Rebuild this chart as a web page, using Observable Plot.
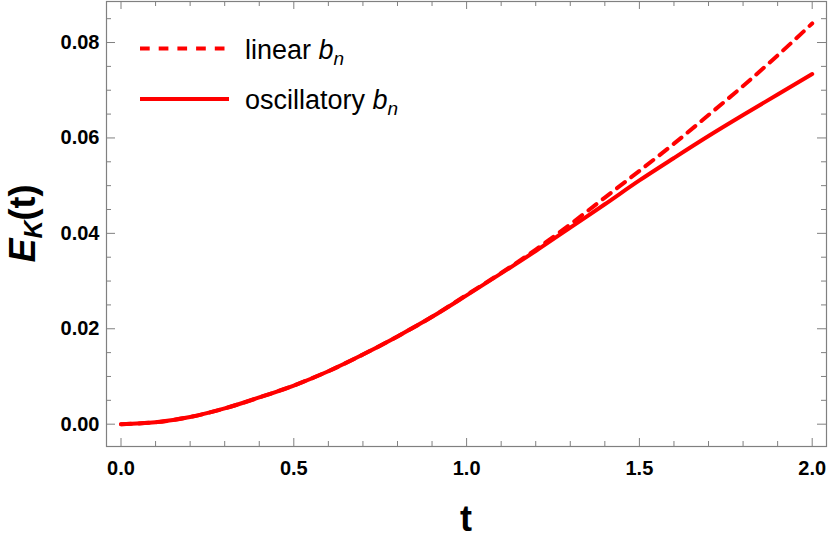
<!DOCTYPE html>
<html>
<head>
<meta charset="utf-8">
<script src="https://cdn.jsdelivr.net/npm/d3@7"></script>
<script src="https://cdn.jsdelivr.net/npm/@observablehq/plot@0.6"></script>
<style>
  html, body { margin: 0; padding: 0; background: #fff; }
  #chart svg { display: block; }
</style>
</head>
<body>
<div id="chart"></div>
<script>
// ---- data ----
const t = [0, 0.1, 0.2, 0.3, 0.4, 0.5, 0.6, 0.7, 0.8, 0.9, 1.0,
           1.1, 1.2, 1.3, 1.4, 1.5, 1.6, 1.7, 1.8, 1.9, 2.0];
const oscillatory = [0, 0.0004, 0.0015, 0.0033, 0.0056, 0.0081, 0.0111, 0.0146, 0.0184, 0.0225, 0.0270,
                     0.0316, 0.0363, 0.0412, 0.0461, 0.0511, 0.0558, 0.0604, 0.0648, 0.0691, 0.0734];
const linear = [0, 0.0004, 0.0015, 0.0033, 0.0056, 0.0081, 0.0111, 0.0146, 0.0184, 0.0225, 0.0271,
                0.0317, 0.0366, 0.0419, 0.0475, 0.0531, 0.0588, 0.0648, 0.0709, 0.0773, 0.0840];
const seriesNames = ["linear", "oscillatory"];

const xTicks = [0, 0.5, 1.0, 1.5, 2.0];
const xTickLabels = ["0.0", "0.5", "1.0", "1.5", "2.0"];
const yTicks = [0, 0.02, 0.04, 0.06, 0.08];
const yTickLabels = ["0.00", "0.02", "0.04", "0.06", "0.08"];
const xMinorTicks = [0.1, 0.2, 0.3, 0.4, 0.6, 0.7, 0.8, 0.9, 1.1, 1.2, 1.3, 1.4, 1.6, 1.7, 1.8, 1.9];
const yMinorTicks = [0.005, 0.01, 0.015, 0.025, 0.03, 0.035, 0.045, 0.05, 0.055, 0.065, 0.07, 0.075, 0.085];
const xDomain = [-0.042, 2.0414];
const yDomain = [-0.00468, 0.0886];

// ---- build rows ----
const oscRows = t.map((x, i) => ({t: x, E: oscillatory[i], series: seriesNames[1]}));
const linRows = t.map((x, i) => ({t: x, E: linear[i], series: seriesNames[0]}));

const W = 830, H = 540, mL = 106, mR = 4, mT = 1, mB = 94;
const innerW = W - mL - mR, innerH = H - mT - mB;
const gray = "#808080";
const red = "#ff0000";
const font = "'Liberation Sans', Arial, Helvetica, sans-serif";
const xFmt = new Map(xTicks.map((d, i) => [d, xTickLabels[i]]));
const yFmt = new Map(yTicks.map((d, i) => [d, yTickLabels[i]]));

const chart = Plot.plot({
  width: W, height: H,
  marginLeft: mL, marginRight: mR, marginTop: mT, marginBottom: mB,
  x: {domain: xDomain, label: null},
  y: {domain: yDomain, label: null},
  style: {fontFamily: font, background: "#fff", overflow: "visible"},
  marks: [
    // inward ticks: bottom / top
    Plot.ruleX(xTicks, {stroke: gray, strokeWidth: 1, insetTop: innerH - 8}),
    Plot.ruleX(xTicks, {stroke: gray, strokeWidth: 1, insetBottom: innerH - 8}),
    Plot.ruleX(xMinorTicks, {stroke: gray, strokeWidth: 1, insetTop: innerH - 5}),
    Plot.ruleX(xMinorTicks, {stroke: gray, strokeWidth: 1, insetBottom: innerH - 5}),
    // inward ticks: left / right
    Plot.ruleY(yTicks, {stroke: gray, strokeWidth: 1, insetRight: innerW - 9}),
    Plot.ruleY(yTicks, {stroke: gray, strokeWidth: 1, insetLeft: innerW - 9}),
    Plot.ruleY(yMinorTicks, {stroke: gray, strokeWidth: 1, insetRight: innerW - 5}),
    Plot.ruleY(yMinorTicks, {stroke: gray, strokeWidth: 1, insetLeft: innerW - 5}),
    // curves
    Plot.line(oscRows, {x: "t", y: "E", stroke: red, strokeWidth: 4, curve: "monotone-x"}),
    Plot.line(linRows, {x: "t", y: "E", stroke: red, strokeWidth: 4, curve: "monotone-x", strokeDasharray: "10,8"}),
    Plot.frame({stroke: gray, strokeWidth: 1.2}),
    // tick labels
    Plot.axisX(xTicks, {tickSize: 0, tickPadding: 14, tickFormat: d => xFmt.get(d), fontSize: 20, fontWeight: "bold", fill: "#000", label: null}),
    Plot.axisY(yTicks, {tickSize: 0, tickPadding: 7, tickFormat: d => yFmt.get(d), fontSize: 20, fontWeight: "bold", fill: "#000", label: null})
  ]
});
document.getElementById("chart").appendChild(chart);

// ---- axis titles and legend (real text) ----
const svg = d3.select(chart);
const plotCx = mL + innerW / 2, plotCy = mT + innerH / 2;

svg.append("text")
  .attr("x", plotCx).attr("y", 531)
  .attr("text-anchor", "middle")
  .attr("font-family", font).attr("font-size", 36).attr("font-weight", "bold")
  .attr("fill", "#000")
  .text("t");

const yl = svg.append("text")
  .attr("transform", `translate(35,${plotCy}) rotate(-90)`)
  .attr("text-anchor", "middle")
  .attr("font-family", font).attr("font-size", 36).attr("font-weight", "bold")
  .attr("fill", "#000");
yl.append("tspan").attr("font-style", "italic").text("E");
yl.append("tspan").attr("font-style", "italic").attr("font-size", 25).attr("dy", 7).text("K");
yl.append("tspan").attr("dy", -7).text("(t)");

const legend = svg.append("g");
const legendItems = [
  {name: "linear ", dash: "9.7,9", y: 48.5, x2: 225, ty: 59},
  {name: "oscillatory ", dash: null, y: 99, x2: 229, ty: 109}
];
legendItems.forEach(it => {
  const ln = legend.append("line")
    .attr("x1", 140).attr("x2", it.x2).attr("y1", it.y).attr("y2", it.y)
    .attr("stroke", red).attr("stroke-width", 4);
  if (it.dash) ln.attr("stroke-dasharray", it.dash);
  const tx = legend.append("text")
    .attr("x", 245).attr("y", it.ty)
    .attr("text-anchor", "start")
    .attr("font-family", font).attr("font-size", 27).attr("fill", "#000");
  tx.append("tspan").text(it.name);
  tx.append("tspan").attr("font-style", "italic").text("b");
  tx.append("tspan").attr("font-style", "italic").attr("font-size", 19).attr("dy", 6).text("n");
});
</script>
</body>
</html>
